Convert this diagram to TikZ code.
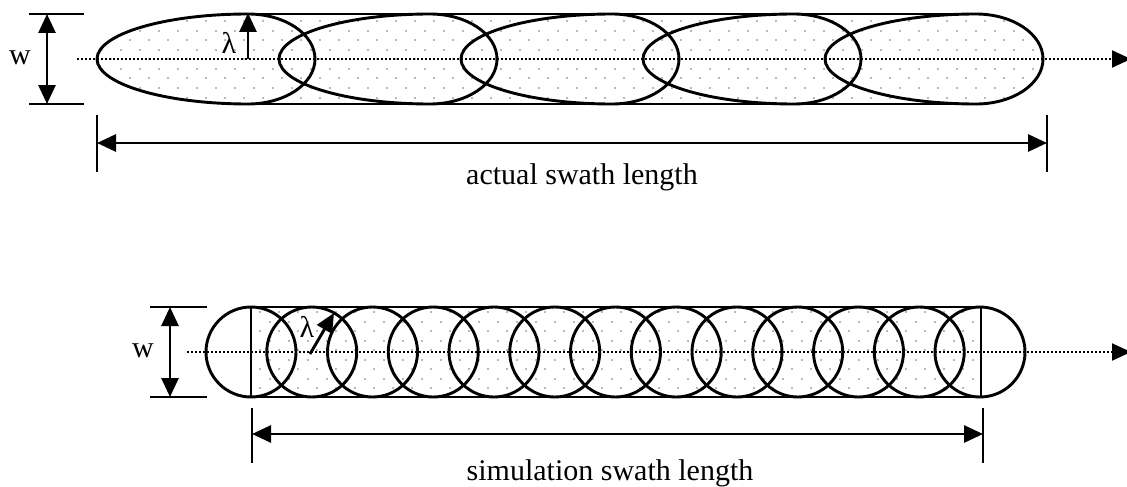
\documentclass[tikz,border=0pt]{standalone}
\usepackage{fontspec}
\setmainfont{Liberation Serif}
\usetikzlibrary{arrows.meta}

\begin{document}
\begin{tikzpicture}[x=1pt,y=1pt,line width=2.9pt,
  tip/.style={-{Triangle[length=19pt,width=17pt]}},
  twotips/.style={{Triangle[length=19pt,width=17pt]}-{Triangle[length=19pt,width=17pt]}},
  centre/.style={dotted,line width=2pt},
  stipple/.style={fill=gray!55},
  lbl/.style={font=\fontsize{30}{35}\selectfont,inner sep=0pt}]

  \useasboundingbox (0,0) rectangle (1127,-487);

  \begin{scope}
    \clip (248,-14) -- (976,-14) arc[start angle=90,end angle=-90,x radius=67,y radius=45]
      -- (248,-104) arc[start angle=270,end angle=90,x radius=151,y radius=45] -- cycle;
    \foreach \i in {0,...,8}
      \foreach \j in {0,...,56}
        \fill[stipple] ({-3.7+19*\j+9.5*mod(\i,2)},{-22.5-9.5*\i}) rectangle +(2,2);
  \end{scope}

  \begin{scope}
    \clip (251,-307) rectangle (981,-397);
    \foreach \i in {0,...,9}
      \foreach \j in {0,...,40}
        \fill[stipple] ({240+19*\j+9.5*mod(\i,2)},{-313-9.5*\i}) rectangle +(2,2);
  \end{scope}

  \coordinate (cl1) at (77,-59);
  \coordinate (cr1) at (1131,-59);
  \draw[centre,tip] (cl1) -- (cr1);
  \foreach \p in {248,430,612,794,976}
    \draw (\p,-14) arc[start angle=90,end angle=270,x radius=151,y radius=45]
      arc[start angle=-90,end angle=90,x radius=67,y radius=45] -- cycle;
  \draw (248,-14) -- (976,-14);
  \draw (248,-104) -- (976,-104);

  \draw (29,-14) -- (84,-14);
  \draw (29,-104) -- (84,-104);
  \coordinate (wt1) at (47,-14);
  \coordinate (wb1) at (47,-104);
  \draw[twotips] (wt1) -- (wb1);
  \node[lbl] (w1) at (20,-58) {w};

  \coordinate (lamfoot1) at (248,-59);
  \coordinate (lamhead1) at (248,-13);
  \draw[tip] (lamfoot1) -- (lamhead1);
  \node[lbl] (lam1) at (229,-43) {λ};

  \draw (97,-115) -- (97,-172);
  \draw (1047,-115) -- (1047,-172);
  \coordinate (len1l) at (97,-143);
  \coordinate (len1r) at (1047,-143);
  \draw[twotips] (len1l) -- (len1r);
  \node[lbl,anchor=base] (actual) at (582,-184) {actual swath length};

  \coordinate (cl2) at (187,-352);
  \coordinate (cr2) at (1131,-352);
  \draw[centre,tip] (cl2) -- (cr2);
  \foreach \i in {0,...,12}
    \draw ({251+60.75*\i},-352) circle (45);
  \draw (251,-307) -- (981,-307);
  \draw (251,-397) -- (981,-397);
  \draw (251,-307) -- (251,-397);
  \draw (981,-307) -- (981,-397);

  \draw (150,-307) -- (207,-307);
  \draw (150,-397) -- (207,-397);
  \coordinate (wt2) at (170,-307);
  \coordinate (wb2) at (170,-397);
  \draw[twotips] (wt2) -- (wb2);
  \node[lbl] (w2) at (143,-351) {w};

  \coordinate (lamfoot2) at (310,-354);
  \coordinate (lamhead2) at (334,-313);
  \draw[tip] (lamfoot2) -- (lamhead2);
  \node[lbl] (lam2) at (307,-327) {λ};

  \draw (252,-408) -- (252,-463);
  \draw (983,-408) -- (983,-463);
  \coordinate (len2l) at (252,-434);
  \coordinate (len2r) at (983,-434);
  \draw[twotips] (len2l) -- (len2r);
  \node[lbl,anchor=base] (simulation) at (610,-480) {simulation swath length};

\end{tikzpicture}
\end{document}
